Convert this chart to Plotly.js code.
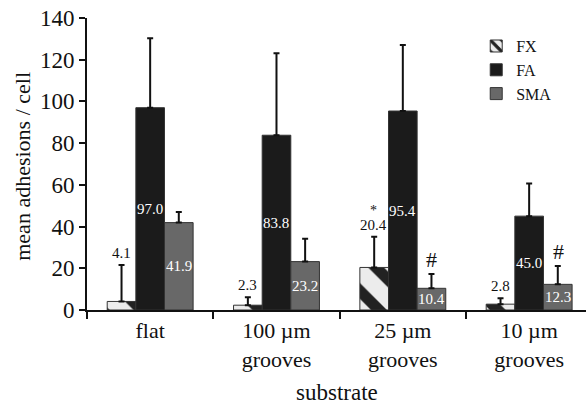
<!DOCTYPE html>
<html><head><meta charset="utf-8">
<script src="https://cdn.plot.ly/plotly-3.0.1.min.js"></script>
<style>html,body{margin:0;padding:0;background:#fff}</style>
</head><body><div id="chart" style="width:586px;height:408px"></div>
<script>
const categories = ["flat", "100 \u00b5m<br>grooves", "25 \u00b5m<br>grooves", "10 \u00b5m<br>grooves"];
const fxValues = [4.1, 2.3, 20.4, 2.8];
const faValues = [97.0, 83.8, 95.4, 45.0];
const smaValues = [41.9, 23.2, 10.4, 12.3];
const fxErr = [17.5, 3.8, 14.7, 2.8];
const faErr = [33.3, 39.3, 31.7, 15.7];
const smaErr = [5.1, 11.0, 6.9, 8.8];
const fxMarks = ["", "", "*", ""];
const smaMarks = ["", "", "#", "#"];
const xTitle = "substrate";
const yTitle = "mean adhesions / cell";

const serif = "Liberation Serif";
const zeros = [0, 0, 0, 0];
function errBar(arr) {
  return {type: "data", symmetric: false, array: arr, arrayminus: zeros,
          color: "#111", thickness: 2, width: 3};
}
const fmt = v => v.toFixed(1);

const traces = [
  {type: "bar", name: "FX", x: categories, y: fxValues, legendgroup: "a",
   marker: {color: "#e0e0e0", line: {color: "#333", width: 1},
            pattern: {shape: "\\", fgcolor: "#222", bgcolor: "#ececec", size: 28, solidity: 0.4}},
   error_y: errBar(fxErr), hoverinfo: "none"},
  {type: "bar", name: "FA", x: categories, y: faValues, legendgroup: "b",
   marker: {color: "#1b1b1b", line: {color: "#333", width: 1}},
   error_y: errBar(faErr), hoverinfo: "none"},
  {type: "bar", name: "SMA", x: categories, y: smaValues, legendgroup: "c",
   marker: {color: "#686868", line: {color: "#333", width: 1}},
   error_y: errBar(smaErr), hoverinfo: "none"}
];

const annotations = [];
categories.forEach((c, i) => {
  const top = fxValues[i] + fxErr[i];
  annotations.push({x: c, y: top, xref: "x", yref: "y", xshift: -29, yshift: 2,
    yanchor: "bottom", showarrow: false, text: fmt(fxValues[i]),
    font: {family: serif, size: 15, color: "#111"}});
  if (fxMarks[i]) {
    annotations.push({x: c, y: top, xref: "x", yref: "y", xshift: -29, yshift: 17,
      yanchor: "bottom", showarrow: false, text: fxMarks[i],
      font: {family: serif, size: 14, color: "#111"}});
  }
  annotations.push({x: c, y: faValues[i] / 2, xref: "x", yref: "y", xshift: 0,
    yanchor: "middle", showarrow: false, text: fmt(faValues[i]),
    font: {family: serif, size: 15, color: "#fff"}});
  annotations.push({x: c, y: smaValues[i] / 2, xref: "x", yref: "y", xshift: 29,
    yanchor: "middle", showarrow: false, text: fmt(smaValues[i]),
    font: {family: serif, size: 15, color: "#fff"}});
  if (smaMarks[i]) {
    annotations.push({x: c, y: smaValues[i] + smaErr[i], xref: "x", yref: "y", xshift: 29, yshift: 0,
      yanchor: "bottom", showarrow: false, text: smaMarks[i],
      font: {family: serif, size: 22, color: "#111"}});
  }
});
annotations.push({x: 0.5, y: -0.284, xref: "paper", yref: "paper", xanchor: "center", yanchor: "middle",
  showarrow: false, text: xTitle, font: {family: serif, size: 23, color: "#111"}});
annotations.push({x: -0.130, y: 0.491, xref: "paper", yref: "paper", xanchor: "center", yanchor: "middle",
  textangle: -90, showarrow: false, text: yTitle, font: {family: serif, size: 22, color: "#111"}});

const layout = {
  width: 586, height: 408,
  margin: {l: 87, r: 0, t: 18, b: 98},
  paper_bgcolor: "#fff", plot_bgcolor: "#fff",
  barmode: "group", bargap: 0.32, bargroupgap: 0,
  font: {family: serif, color: "#111"},
  showlegend: true,
  legend: {x: 0.78, y: 0.962, xanchor: "left", yanchor: "top",
           font: {family: serif, size: 16, color: "#111"},
           traceorder: "grouped", tracegroupgap: 0, bgcolor: "rgba(0,0,0,0)"},
  xaxis: {type: "category", range: [-0.5, 3.45], showline: true, linecolor: "#111", linewidth: 2,
          ticks: "outside", tickson: "boundaries", ticklen: 7, tickwidth: 2, tickcolor: "#111",
          tickfont: {family: serif, size: 22, color: "#111"}, showgrid: false, zeroline: false},
  yaxis: {range: [0, 140], dtick: 20, showline: true, linecolor: "#111", linewidth: 2,
          ticks: "outside", ticklen: 6, tickwidth: 2, tickcolor: "#111",
          tickfont: {family: serif, size: 23, color: "#111"}, showgrid: false, zeroline: false},
  annotations: annotations
};

Plotly.newPlot("chart", traces, layout, {displayModeBar: false, staticPlot: true});
</script></body></html>
